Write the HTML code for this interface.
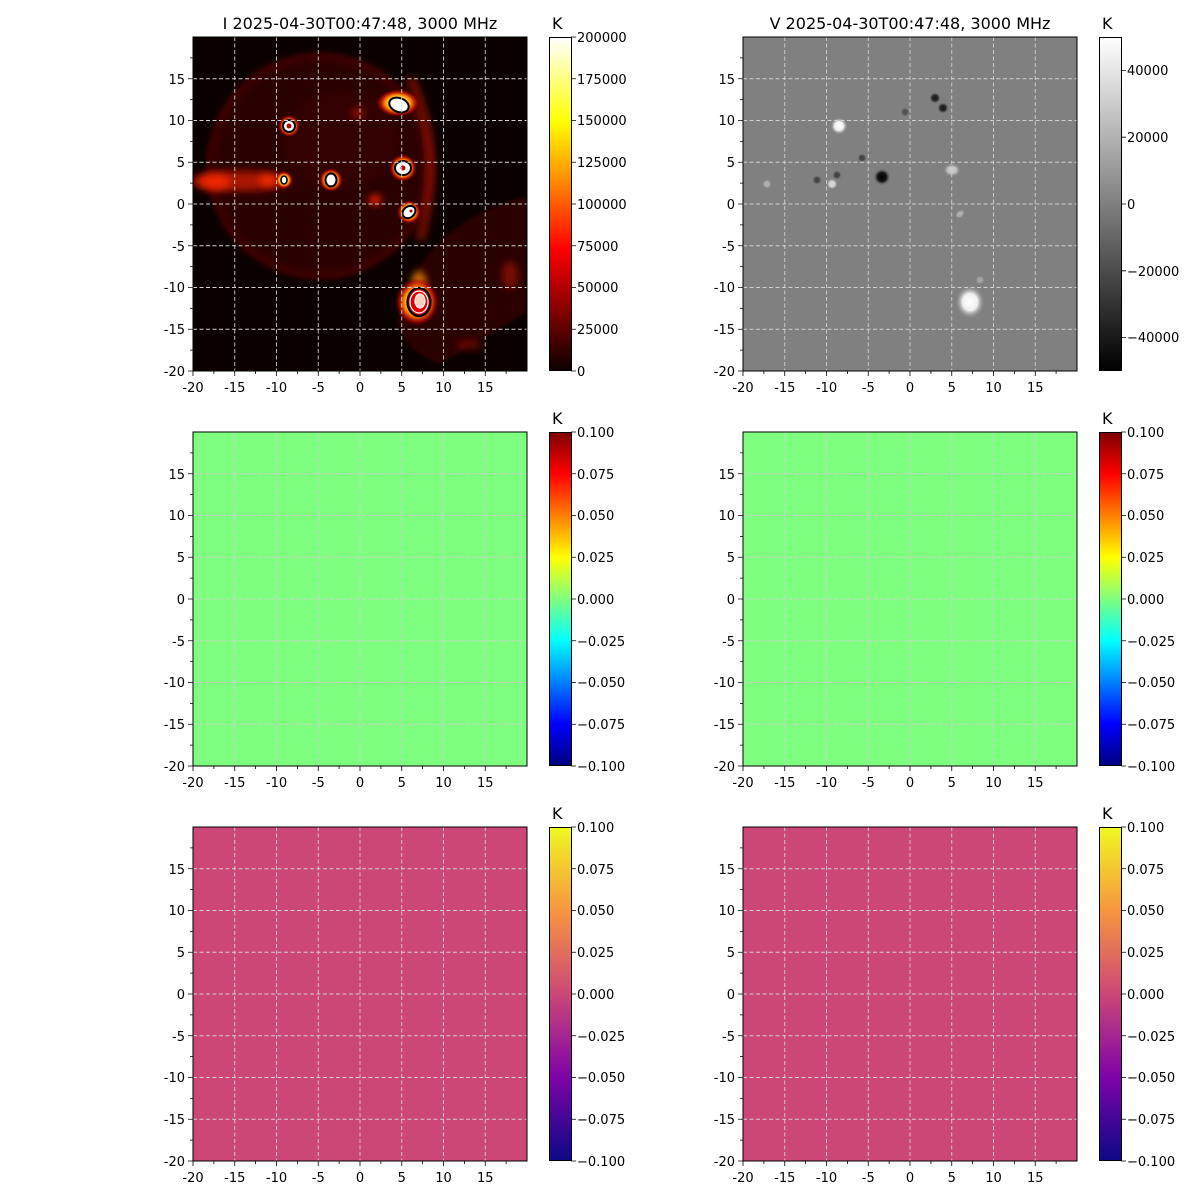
<!DOCTYPE html>
<html><head><meta charset="utf-8"><style>
html,body{margin:0;padding:0;background:#fff;}
svg{display:block;font-family:"DejaVu Sans","Liberation Sans",sans-serif;}
.tk{font-size:13px;fill:#000;}
.g{stroke:#d0d0d0;stroke-width:0.9;stroke-dasharray:4,2.5;fill:none;}
.gl{stroke:#b0b0b0;stroke-width:0.9;stroke-dasharray:4,2.5;fill:none;}
.t{stroke:#000;stroke-width:0.8;}
</style></head><body>
<svg width="1200" height="1200" viewBox="0 0 1200 1200" xmlns="http://www.w3.org/2000/svg">
<defs>
<linearGradient id="hot" x1="0" y1="1" x2="0" y2="0">
<stop offset="0" stop-color="#0b0000"/><stop offset="0.365" stop-color="#ff0000"/><stop offset="0.746" stop-color="#ffff00"/><stop offset="1" stop-color="#ffffff"/></linearGradient>
<linearGradient id="gray" x1="0" y1="1" x2="0" y2="0"><stop offset="0" stop-color="#000"/><stop offset="1" stop-color="#fff"/></linearGradient>
<linearGradient id="jet" x1="0" y1="1" x2="0" y2="0">
<stop offset="0" stop-color="#000080"/><stop offset="0.125" stop-color="#0000ff"/><stop offset="0.375" stop-color="#00ffff"/><stop offset="0.5" stop-color="#7fff7f"/><stop offset="0.625" stop-color="#ffff00"/><stop offset="0.875" stop-color="#ff0000"/><stop offset="1" stop-color="#800000"/></linearGradient>
<linearGradient id="plasma" x1="0" y1="1" x2="0" y2="0">
<stop offset="0" stop-color="#0d0887"/><stop offset="0.25" stop-color="#7e03a8"/><stop offset="0.5" stop-color="#cc4778"/><stop offset="0.75" stop-color="#f89540"/><stop offset="1" stop-color="#f0f921"/></linearGradient>
<radialGradient id="glow"><stop offset="0" stop-color="#ffffff"/><stop offset="0.35" stop-color="#ffff40"/><stop offset="0.6" stop-color="#ff8000"/><stop offset="0.85" stop-color="#c00000" stop-opacity="0.6"/><stop offset="1" stop-color="#600000" stop-opacity="0"/></radialGradient>
<radialGradient id="wg"><stop offset="0" stop-color="#fff"/><stop offset="0.5" stop-color="#f0f0f0"/><stop offset="1" stop-color="#808080" stop-opacity="0"/></radialGradient>
<radialGradient id="kg"><stop offset="0" stop-color="#000"/><stop offset="0.5" stop-color="#151515"/><stop offset="1" stop-color="#808080" stop-opacity="0"/></radialGradient>
<filter id="bl" x="-50%" y="-50%" width="200%" height="200%"><feGaussianBlur stdDeviation="4"/></filter>
<filter id="bl2" x="-50%" y="-50%" width="200%" height="200%"><feGaussianBlur stdDeviation="1.5"/></filter>
<clipPath id="c1"><rect x="193" y="37" width="334" height="334"/></clipPath>
<clipPath id="cv"><rect x="743" y="37" width="334" height="334"/></clipPath>
<clipPath id="cut"><polygon points="193,93 300,37 527,37 527,371 193,371"/></clipPath>
</defs>

<!-- ===== Panel I (top-left) ===== -->
<g clip-path="url(#c1)">
<rect x="193" y="37" width="334" height="334" fill="#0b0000"/>
<g clip-path="url(#cut)">
<circle cx="320" cy="166" r="113" fill="#2a0200" filter="url(#bl2)"/>
<circle cx="320" cy="166" r="109" fill="none" stroke="#420300" stroke-width="6" filter="url(#bl)"/>
<path d="M410,78 Q445,150 420,240" fill="none" stroke="#a01200" stroke-width="8" opacity="0.8" filter="url(#bl)"/>
<ellipse cx="240" cy="181" rx="50" ry="10" fill="#a81400" filter="url(#bl)"/>
<ellipse cx="215" cy="182" rx="16" ry="8" fill="#ff2a00" opacity="0.8" filter="url(#bl)"/>
<ellipse cx="268" cy="180" rx="9" ry="6" fill="#ff3000" opacity="0.8" filter="url(#bl)"/>
<ellipse cx="358" cy="113" rx="6" ry="5" fill="#ff2000" filter="url(#bl)"/>
<ellipse cx="375" cy="200" rx="6" ry="5" fill="#ff2000" filter="url(#bl)"/>
<ellipse cx="340" cy="140" rx="60" ry="50" fill="#3a0400" opacity="0.5" filter="url(#bl)"/>
</g>
<path d="M398,322 Q418,225 527,196 L527,312 L440,364 Q405,352 398,322 Z" fill="#2a0200" filter="url(#bl2)"/>
<ellipse cx="510" cy="275" rx="8" ry="14" fill="#b01500" opacity="0.6" filter="url(#bl)"/>
<ellipse cx="470" cy="345" rx="14" ry="5" fill="#a01000" opacity="0.5" filter="url(#bl)"/>
<!-- sources -->
<ellipse cx="398" cy="103" rx="22" ry="14" fill="url(#glow)"/>
<ellipse cx="399" cy="105" rx="10" ry="7" transform="rotate(20 399 105)" fill="#fff" stroke="#000" stroke-width="2"/>
<circle cx="289" cy="126" r="11" fill="url(#glow)"/>
<circle cx="289" cy="126" r="6" fill="#fff" stroke="#000" stroke-width="2"/><circle cx="289" cy="126" r="2.5" fill="#b00000"/>
<circle cx="284" cy="180" r="9" fill="url(#glow)"/>
<ellipse cx="284" cy="180" rx="3" ry="4" fill="#fff" stroke="#000" stroke-width="1.6"/>
<circle cx="331" cy="180" r="12" fill="url(#glow)"/>
<ellipse cx="331" cy="180" rx="5.5" ry="6.5" fill="#fff" stroke="#000" stroke-width="2"/>
<circle cx="403" cy="168" r="14" fill="url(#glow)"/>
<ellipse cx="403" cy="168" rx="8" ry="7" fill="#fff" stroke="#000" stroke-width="2"/><circle cx="403" cy="168" r="2.5" fill="#b00000"/>
<circle cx="409" cy="212" r="12" fill="url(#glow)"/>
<ellipse cx="409" cy="212" rx="7" ry="5.5" transform="rotate(-40 409 212)" fill="#fff" stroke="#000" stroke-width="2"/><circle cx="411" cy="211" r="1.5" fill="#b00000"/>
<ellipse cx="419" cy="283" rx="7" ry="12" fill="#ff9000" opacity="0.8" filter="url(#bl)"/>
<ellipse cx="417" cy="302" rx="22" ry="24" fill="url(#glow)"/>
<ellipse cx="419" cy="302" rx="11.5" ry="14" fill="#e00000" stroke="#000" stroke-width="2.2"/>
<ellipse cx="419" cy="302" rx="9" ry="11" fill="none" stroke="#fff" stroke-width="1.2"/>
<ellipse cx="420" cy="301" rx="5" ry="7" fill="#ffd0c0" stroke="#fff" stroke-width="1.2"/>
</g>

<!-- ===== Panel V (top-right) ===== -->
<g clip-path="url(#cv)">
<rect x="743" y="37" width="334" height="334" fill="#808080"/>
<circle cx="839" cy="126" r="9" fill="url(#wg)"/>
<circle cx="882" cy="177" r="9" fill="url(#kg)"/>
<ellipse cx="970" cy="302" rx="15" ry="17" fill="url(#wg)"/>
<circle cx="935" cy="98" r="6" fill="url(#kg)" opacity="0.8"/>
<circle cx="943" cy="108" r="6" fill="url(#kg)" opacity="0.8"/>
<circle cx="905" cy="112" r="5" fill="url(#kg)" opacity="0.4"/>
<circle cx="862" cy="158" r="5" fill="url(#kg)" opacity="0.5"/>
<ellipse cx="952" cy="170" rx="9" ry="7" fill="url(#wg)" opacity="0.6"/>
<circle cx="832" cy="184" r="6" fill="url(#wg)" opacity="0.7"/>
<circle cx="817" cy="180" r="5" fill="url(#kg)" opacity="0.5"/>
<circle cx="837" cy="175" r="5" fill="url(#kg)" opacity="0.5"/>
<circle cx="767" cy="184" r="5" fill="url(#wg)" opacity="0.4"/>
<ellipse cx="960" cy="214" rx="6" ry="4" transform="rotate(-40 960 214)" fill="url(#wg)" opacity="0.4"/>
<circle cx="980" cy="280" r="5" fill="url(#wg)" opacity="0.3"/>
</g>

<!-- ===== Rows 2 and 3 fills ===== -->
<rect x="193" y="432" width="334" height="334" fill="#7fff7f"/>
<rect x="743" y="432" width="334" height="334" fill="#7fff7f"/>
<rect x="193" y="827" width="334" height="334" fill="#cc4778"/>
<rect x="743" y="827" width="334" height="334" fill="#cc4778"/>

<!-- grids -->
<g id="grid1" class="g">
<path d="M234.75,37V371M276.5,37V371M318.25,37V371M360,37V371M401.75,37V371M443.5,37V371M485.25,37V371"/>
<path d="M193,329.25H527M193,287.5H527M193,245.75H527M193,204H527M193,162.25H527M193,120.5H527M193,78.75H527"/>
</g>
<g class="g"><use href="#grid1" transform="translate(550,0)"/></g>
<g class="gl"><use href="#grid1" transform="translate(0,395)"/><use href="#grid1" transform="translate(550,395)"/><use href="#grid1" transform="translate(0,790)"/><use href="#grid1" transform="translate(550,790)"/></g>

<!-- axes frames + ticks -->
<g id="ax1">
<rect x="193" y="37" width="334" height="334" fill="none" stroke="#000" stroke-width="1"/>
<path class="t" d="M193,371v5M234.75,371v5M276.5,371v5M318.25,371v5M360,371v5M401.75,371v5M443.5,371v5M485.25,371v5
M213.9,371v3M255.6,371v3M297.4,371v3M339.1,371v3M380.9,371v3M422.6,371v3M464.4,371v3M506.1,371v3
M193,371h-5M193,329.25h-5M193,287.5h-5M193,245.75h-5M193,204h-5M193,162.25h-5M193,120.5h-5M193,78.75h-5
M193,350.1h-3M193,308.4h-3M193,266.6h-3M193,224.9h-3M193,183.1h-3M193,141.4h-3M193,99.6h-3M193,57.9h-3"/>
</g>
<use href="#ax1" transform="translate(550,0)"/>
<use href="#ax1" transform="translate(0,395)"/>
<use href="#ax1" transform="translate(550,395)"/>
<use href="#ax1" transform="translate(0,790)"/>
<use href="#ax1" transform="translate(550,790)"/>

<g class="tk" text-anchor="middle">
<text x="193" y="392">-20</text><text x="234.75" y="392">-15</text><text x="276.5" y="392">-10</text><text x="318.25" y="392">-5</text><text x="360" y="392">0</text><text x="401.75" y="392">5</text><text x="443.5" y="392">10</text><text x="485.25" y="392">15</text>
<text x="743" y="392">-20</text><text x="784.75" y="392">-15</text><text x="826.5" y="392">-10</text><text x="868.25" y="392">-5</text><text x="910" y="392">0</text><text x="951.75" y="392">5</text><text x="993.5" y="392">10</text><text x="1035.25" y="392">15</text>
<text x="193" y="787">-20</text><text x="234.75" y="787">-15</text><text x="276.5" y="787">-10</text><text x="318.25" y="787">-5</text><text x="360" y="787">0</text><text x="401.75" y="787">5</text><text x="443.5" y="787">10</text><text x="485.25" y="787">15</text>
<text x="743" y="787">-20</text><text x="784.75" y="787">-15</text><text x="826.5" y="787">-10</text><text x="868.25" y="787">-5</text><text x="910" y="787">0</text><text x="951.75" y="787">5</text><text x="993.5" y="787">10</text><text x="1035.25" y="787">15</text>
<text x="193" y="1182">-20</text><text x="234.75" y="1182">-15</text><text x="276.5" y="1182">-10</text><text x="318.25" y="1182">-5</text><text x="360" y="1182">0</text><text x="401.75" y="1182">5</text><text x="443.5" y="1182">10</text><text x="485.25" y="1182">15</text>
<text x="743" y="1182">-20</text><text x="784.75" y="1182">-15</text><text x="826.5" y="1182">-10</text><text x="868.25" y="1182">-5</text><text x="910" y="1182">0</text><text x="951.75" y="1182">5</text><text x="993.5" y="1182">10</text><text x="1035.25" y="1182">15</text>
</g>
<g class="tk" text-anchor="end">
<text x="185" y="376">-20</text><text x="185" y="334">-15</text><text x="185" y="292">-10</text><text x="185" y="251">-5</text><text x="185" y="209">0</text><text x="185" y="167">5</text><text x="185" y="125">10</text><text x="185" y="84">15</text>
<text x="735" y="376">-20</text><text x="735" y="334">-15</text><text x="735" y="292">-10</text><text x="735" y="251">-5</text><text x="735" y="209">0</text><text x="735" y="167">5</text><text x="735" y="125">10</text><text x="735" y="84">15</text>
<text x="185" y="771">-20</text><text x="185" y="729">-15</text><text x="185" y="687">-10</text><text x="185" y="646">-5</text><text x="185" y="604">0</text><text x="185" y="562">5</text><text x="185" y="520">10</text><text x="185" y="479">15</text>
<text x="735" y="771">-20</text><text x="735" y="729">-15</text><text x="735" y="687">-10</text><text x="735" y="646">-5</text><text x="735" y="604">0</text><text x="735" y="562">5</text><text x="735" y="520">10</text><text x="735" y="479">15</text>
<text x="185" y="1166">-20</text><text x="185" y="1124">-15</text><text x="185" y="1082">-10</text><text x="185" y="1041">-5</text><text x="185" y="999">0</text><text x="185" y="957">5</text><text x="185" y="915">10</text><text x="185" y="874">15</text>
<text x="735" y="1166">-20</text><text x="735" y="1124">-15</text><text x="735" y="1082">-10</text><text x="735" y="1041">-5</text><text x="735" y="999">0</text><text x="735" y="957">5</text><text x="735" y="915">10</text><text x="735" y="874">15</text>
</g>

<text x="360" y="29" text-anchor="middle" font-size="16">I 2025-04-30T00:47:48, 3000 MHz</text>
<text x="910" y="29" text-anchor="middle" font-size="16">V 2025-04-30T00:47:48, 3000 MHz</text>

<g stroke="#000" stroke-width="1">
<rect x="549.5" y="37.5" width="22" height="333" fill="url(#hot)"/>
<rect x="1099.5" y="37.5" width="22" height="333" fill="url(#gray)"/>
<rect x="549.5" y="432.5" width="22" height="333" fill="url(#jet)"/>
<rect x="1099.5" y="432.5" width="22" height="333" fill="url(#jet)"/>
<rect x="549.5" y="827.5" width="22" height="333" fill="url(#plasma)"/>
<rect x="1099.5" y="827.5" width="22" height="333" fill="url(#plasma)"/>
</g>
<g class="tk"><text x="552" y="29" font-size="16">K</text><text x="1102" y="29" font-size="16">K</text><text x="552" y="424" font-size="16">K</text><text x="1102" y="424" font-size="16">K</text><text x="552" y="819" font-size="16">K</text><text x="1102" y="819" font-size="16">K</text></g>
<g class="t">
<path d="M571,37h5M571,78.75h5M571,120.5h5M571,162.25h5M571,204h5M571,245.75h5M571,287.5h5M571,329.25h5M571,371h5"/>
<path d="M1121,70.4h5M1121,137.2h5M1121,204h5M1121,270.8h5M1121,337.6h5"/>
<path d="M571,432h5M571,473.75h5M571,515.5h5M571,557.25h5M571,599h5M571,640.75h5M571,682.5h5M571,724.25h5M571,766h5"/>
<path d="M1121,432h5M1121,473.75h5M1121,515.5h5M1121,557.25h5M1121,599h5M1121,640.75h5M1121,682.5h5M1121,724.25h5M1121,766h5"/>
<path d="M571,827h5M571,868.75h5M571,910.5h5M571,952.25h5M571,994h5M571,1035.75h5M571,1077.5h5M571,1119.25h5M571,1161h5"/>
<path d="M1121,827h5M1121,868.75h5M1121,910.5h5M1121,952.25h5M1121,994h5M1121,1035.75h5M1121,1077.5h5M1121,1119.25h5M1121,1161h5"/>
</g>
<g class="tk">
<text x="577" y="42">200000</text><text x="577" y="84">175000</text><text x="577" y="125">150000</text><text x="577" y="167">125000</text><text x="577" y="209">100000</text><text x="577" y="251">75000</text><text x="577" y="292">50000</text><text x="577" y="334">25000</text><text x="577" y="376">0</text>
<text x="1127" y="75">40000</text><text x="1127" y="142">20000</text><text x="1127" y="209">0</text><text x="1127" y="276">−20000</text><text x="1127" y="342">−40000</text>
<text x="577" y="437">0.100</text><text x="577" y="479">0.075</text><text x="577" y="520">0.050</text><text x="577" y="562">0.025</text><text x="577" y="604">0.000</text><text x="577" y="646">−0.025</text><text x="577" y="687">−0.050</text><text x="577" y="729">−0.075</text><text x="577" y="771">−0.100</text>
<text x="1127" y="437">0.100</text><text x="1127" y="479">0.075</text><text x="1127" y="520">0.050</text><text x="1127" y="562">0.025</text><text x="1127" y="604">0.000</text><text x="1127" y="646">−0.025</text><text x="1127" y="687">−0.050</text><text x="1127" y="729">−0.075</text><text x="1127" y="771">−0.100</text>
<text x="577" y="832">0.100</text><text x="577" y="874">0.075</text><text x="577" y="915">0.050</text><text x="577" y="957">0.025</text><text x="577" y="999">0.000</text><text x="577" y="1041">−0.025</text><text x="577" y="1082">−0.050</text><text x="577" y="1124">−0.075</text><text x="577" y="1166">−0.100</text>
<text x="1127" y="832">0.100</text><text x="1127" y="874">0.075</text><text x="1127" y="915">0.050</text><text x="1127" y="957">0.025</text><text x="1127" y="999">0.000</text><text x="1127" y="1041">−0.025</text><text x="1127" y="1082">−0.050</text><text x="1127" y="1124">−0.075</text><text x="1127" y="1166">−0.100</text>
</g>
</svg>
</body></html>
